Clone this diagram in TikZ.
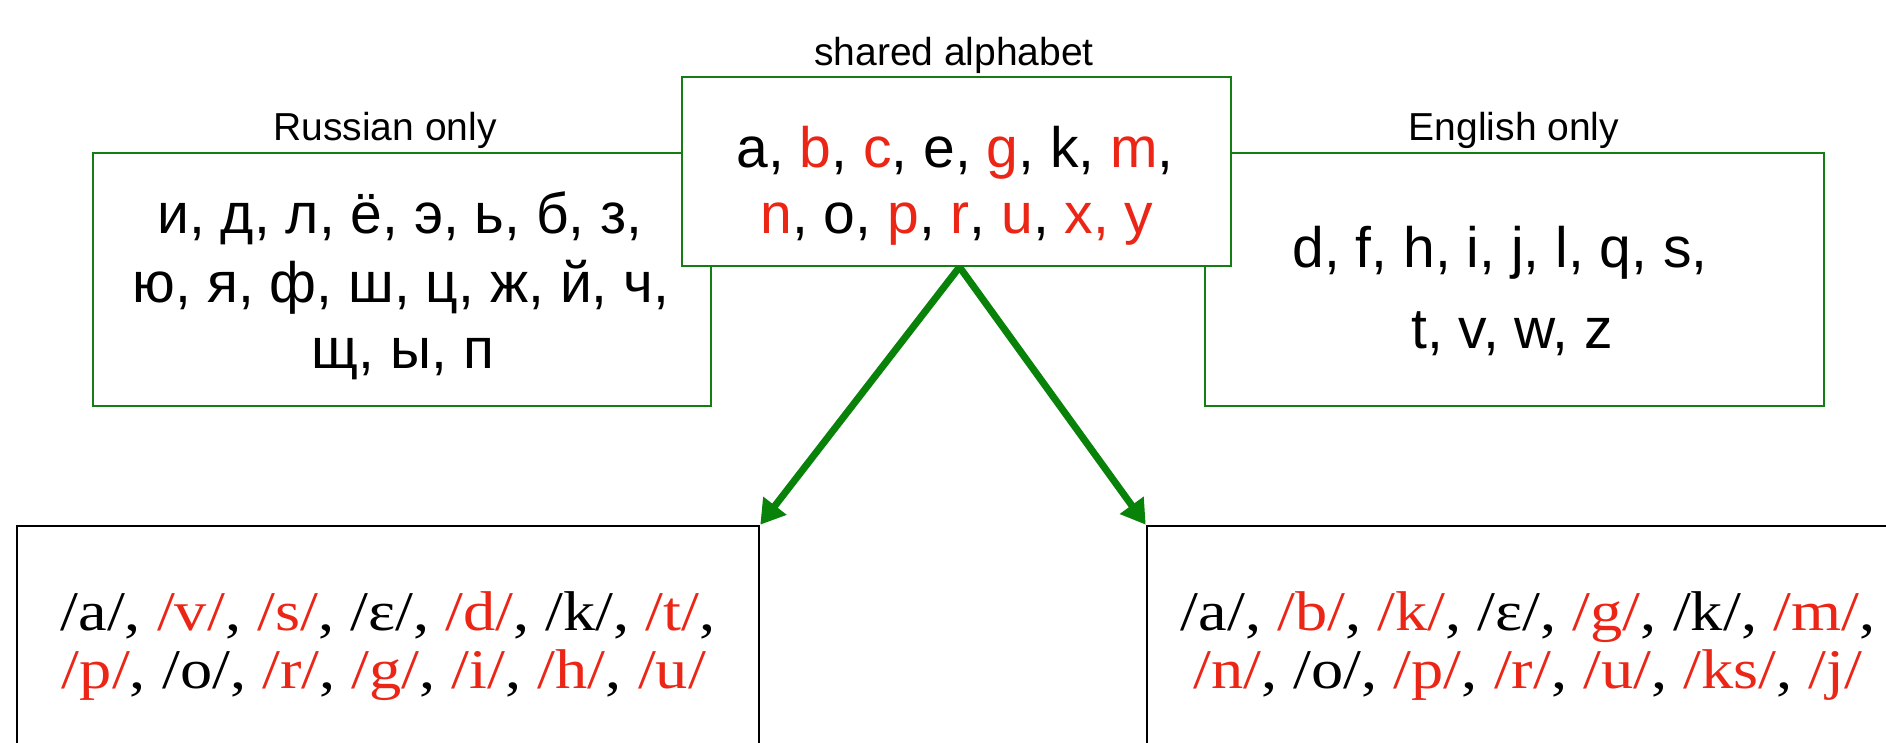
\documentclass[tikz,border=0pt]{standalone}
\usepackage{fontspec}
\setmainfont{Liberation Sans}
\newfontfamily\ipafont[FakeStretch=1.15]{Liberation Serif}
\usetikzlibrary{arrows.meta}
\definecolor{boxgreen}{RGB}{20,125,20}
\definecolor{arrowgreen}{RGB}{8,130,8}
\definecolor{hired}{RGB}{236,38,22}
\newcommand{\redtxt}[1]{\textcolor{hired}{#1}}
\tikzset{
  greenbox/.style={draw=boxgreen, line width=2pt, fill=white, rectangle, inner sep=0pt},
  blackbox/.style={draw=black, line width=2.6pt, rectangle, inner sep=0pt},
  letters/.style={anchor=base, inner sep=0pt, font=\fontsize{57}{68}\selectfont},
  caption/.style={anchor=base, inner sep=0pt, font=\fontsize{39}{47}\selectfont},
  phon/.style={anchor=base, inner sep=0pt, font=\ipafont\fontsize{56}{58}\selectfont},
  flow/.style={draw=arrowgreen, line width=7pt, -{Triangle[length=24pt,width=28pt]}}
}
\begin{document}
\begin{tikzpicture}[x=1pt, y=-1pt]
\useasboundingbox (0,0) rectangle (1886,742);
\clip (0,0) rectangle (1886,742);
\fill[white] (0,0) rectangle (1886,742);

% upper row: alphabet boxes
\node[greenbox, minimum width=618pt, minimum height=253pt] (rus) at (402,279.5) {};
\node[greenbox, minimum width=619pt, minimum height=253pt] (eng) at (1514.5,279.5) {};
\node[greenbox, minimum width=549pt, minimum height=189pt] (shared) at (956.5,171.5) {};

\node[caption] (ruslbl) at (385,140) {Russian only};
\node[caption] (englbl) at (1514,140) {English only};
\node[caption] (sharedlbl) at (954,65) {shared alphabet};

\node[letters] (rus1) at (400,233) {и, д, л, ё, э, ь, б, з,};
\node[letters] (rus2) at (401,302) {ю, я, ф, ш, ц, ж, й, ч,};
\node[letters] (rus3) at (403,368) {щ, ы, п};

\node[letters] (sh1) at (955,167) {a, \redtxt{b}, \redtxt{c}, e, \redtxt{g}, k, \redtxt{m},};
\node[letters] (sh2) at (957,233) {\redtxt{n}, o, \redtxt{p}, \redtxt{r}, \redtxt{u}, \redtxt{x, y}};

\node[letters] (eng1) at (1500,267) {d, f, h, i, j, l, q, s,};
\node[letters] (eng2) at (1512,348) {t, v, w, z};

% lower row: sound boxes
\node[blackbox, minimum width=742pt, minimum height=320pt] (lb) at (388,686) {};
\node[blackbox, minimum width=780pt, minimum height=320pt] (rb) at (1537,686) {};

\node[phon] (lb1) at (388,630) {/a/, \redtxt{/v/}, \redtxt{/s/}, /ɛ/, \redtxt{/d/}, /k/, \redtxt{/t/},};
\node[phon] (lb2) at (384,688) {\redtxt{/p/}, /o/, \redtxt{/r/}, \redtxt{/g/}, \redtxt{/i/}, \redtxt{/h/}, \redtxt{/u/}};

\node[phon] (rb1) at (1528,630) {/a/, \redtxt{/b/}, \redtxt{/k/}, /ɛ/, \redtxt{/g/}, /k/, \redtxt{/m/},};
\node[phon] (rb2) at (1528,688) {\redtxt{/n/}, /o/, \redtxt{/p/}, \redtxt{/r/}, \redtxt{/u/}, \redtxt{/ks/}, \redtxt{/j/}};

% arrows from the shared alphabet to both sound inventories
\coordinate (apex) at ([xshift=3pt]shared.south);
\draw[flow] (apex) -- (lb.north east);
\draw[flow] (apex) -- (rb.north west);
\end{tikzpicture}
\end{document}
